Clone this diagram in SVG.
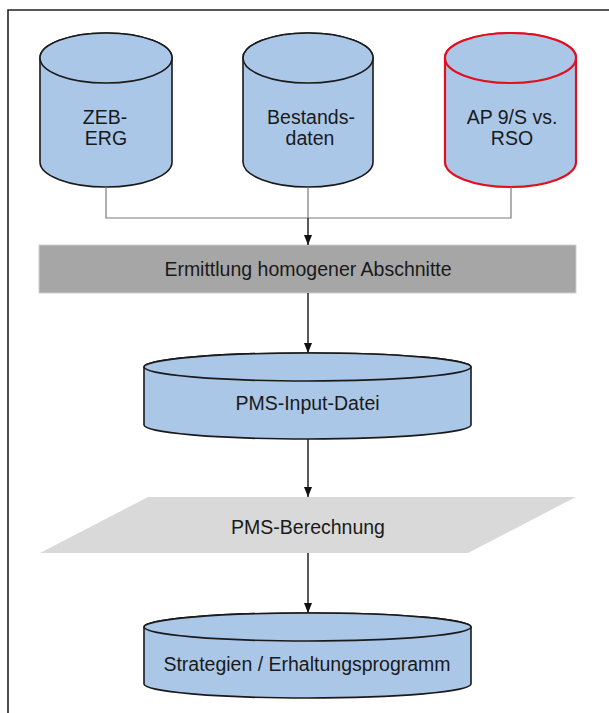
<svg xmlns="http://www.w3.org/2000/svg" width="609" height="713" viewBox="0 0 609 713">
  <defs>
    <marker id="arrow" viewBox="0 0 10 8" refX="10" refY="4" markerWidth="10" markerHeight="8" markerUnits="userSpaceOnUse" orient="auto">
      <path d="M0,0 L10,4 L0,8 Z" fill="#111"/>
    </marker>
    <style>
      .db { fill: #abc7e8; stroke: #1a1a1a; stroke-width: 1.6; }
      .db-red { fill: #abc7e8; stroke: #e0101e; stroke-width: 2.2; }
      .lbl { font-family: "Liberation Sans", Arial, sans-serif; font-size: 19.5px; fill: #1a1a1a; text-anchor: middle; }
      .merge { fill: none; stroke: #7a7a7a; stroke-width: 1.2; }
      .flow { fill: none; stroke: #222; stroke-width: 1.5; marker-end: url(#arrow); }
      .frame { fill: none; stroke: #222; stroke-width: 1.6; }
    </style>
  </defs>

  <rect width="609" height="713" fill="#ffffff"/>

  <!-- outer frame (only top and left edges fall inside the canvas) -->
  <path class="frame" d="M8,713 L8,10 L609,10"/>

  <!-- data sources -->
  <g id="src-zeb">
    <path class="db" d="M40,58 L40,162 A66,25 0 0 0 172,162 L172,58 A66,25 0 0 0 40,58 Z"/>
    <ellipse class="db" cx="106" cy="58" rx="66" ry="25"/>
    <text class="lbl" x="105" y="124">ZEB-</text>
    <text class="lbl" x="106" y="145">ERG</text>
  </g>

  <g id="src-bestand">
    <path class="db" d="M243,58 L243,162 A65,25 0 0 0 373,162 L373,58 A65,25 0 0 0 243,58 Z"/>
    <ellipse class="db" cx="308" cy="58" rx="65" ry="25"/>
    <text class="lbl" x="311" y="124">Bestands-</text>
    <text class="lbl" x="310" y="145">daten</text>
  </g>

  <g id="src-ap">
    <path class="db-red" d="M445,58 L445,162 A65.5,25 0 0 0 576,162 L576,58 A65.5,25 0 0 0 445,58 Z"/>
    <ellipse class="db-red" cx="510.5" cy="58" rx="65.5" ry="25"/>
    <text class="lbl" x="512" y="124">AP 9/S vs.</text>
    <text class="lbl" x="512" y="145">RSO</text>
  </g>

  <!-- processing step -->
  <g id="step-homogen">
    <rect x="39" y="245" width="537" height="48" fill="#a6a6a6" stroke="#cfcfcf" stroke-width="1"/>
    <text class="lbl" x="308" y="275.5">Ermittlung homogener Abschnitte</text>
  </g>

  <g id="db-input">
    <path class="db" d="M144,367 L144,425 A163.5,14 0 0 0 471,425 L471,367 A163.5,14 0 0 0 144,367 Z"/>
    <ellipse class="db" cx="307.5" cy="367" rx="163.5" ry="14"/>
    <text class="lbl" x="307.5" y="410">PMS-Input-Datei</text>
  </g>

  <g id="step-calc">
    <polygon points="148,497 576,497 468,553 40,553" fill="#d9d9d9"/>
    <text class="lbl" x="308" y="534">PMS-Berechnung</text>
  </g>

  <g id="db-strategy">
    <path class="db" d="M144,627 L144,684 A163.5,14 0 0 0 471,684 L471,627 A163.5,14 0 0 0 144,627 Z"/>
    <ellipse class="db" cx="307.5" cy="627" rx="163.5" ry="14"/>
    <text class="lbl" x="307" y="671">Strategien / Erhaltungsprogramm</text>
  </g>

  <!-- connectors -->
  <g id="connectors">
    <path class="merge" d="M106,187 L106,218 L511,218 L511,187"/>
    <path class="merge" d="M308,187 L308,218"/>
    <path class="flow" d="M308,218 L308,245"/>
    <path class="flow" d="M308,293 L308,353"/>
    <path class="flow" d="M308,439 L308,497"/>
    <path class="flow" d="M308,553 L308,613"/>
  </g>
</svg>
